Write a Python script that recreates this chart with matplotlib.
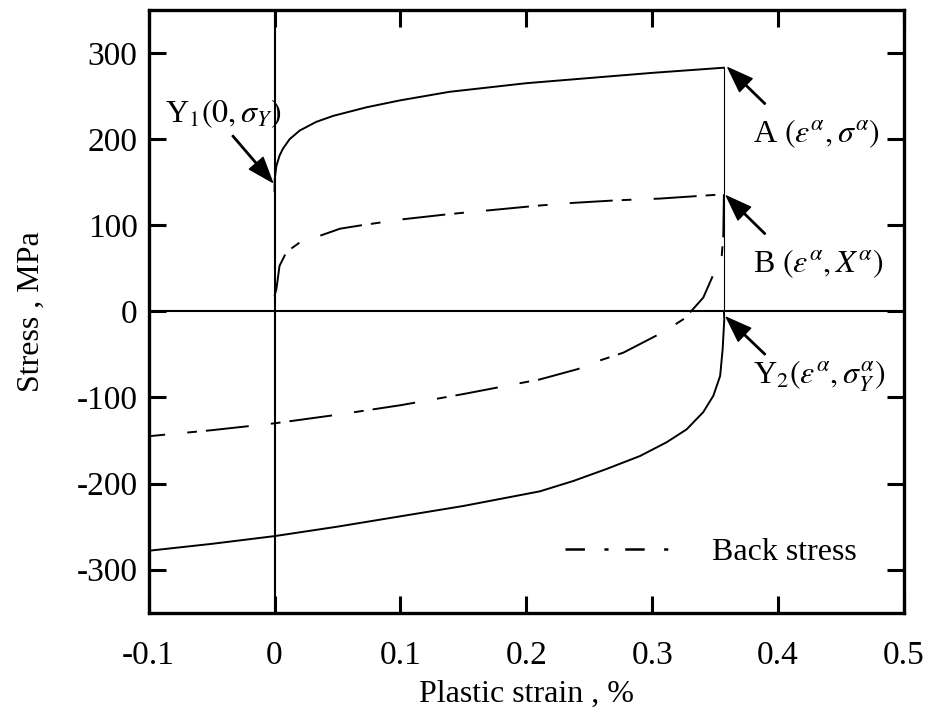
import matplotlib
matplotlib.use("Agg")
import matplotlib.pyplot as plt
from matplotlib.lines import Line2D

plt.rcParams['font.family'] = ['Liberation Serif', 'DejaVu Serif']
plt.rcParams['mathtext.fontset'] = 'stix'
plt.rcParams['lines.scale_dashes'] = False
plt.rcParams['axes.unicode_minus'] = False

# forward loading (stress) from Y1 to A
fwd_strain = [0, 0.0002, 0.0015, 0.004, 0.0067, 0.012, 0.02, 0.033, 0.0465, 0.073, 0.0995, 0.139,
              0.2, 0.25, 0.3, 0.357]
fwd_stress = [140, 154, 169, 181, 189, 200, 210, 220, 227, 237, 245, 255, 265, 271, 277, 283]

# reverse loading (stress) from Y2 back past zero strain
rev_strain = [0.357, 0.3573, 0.356, 0.354, 0.3486, 0.3406, 0.3274, 0.3115, 0.2903, 0.2638, 0.2373,
              0.2108, 0.15, 0.1, 0.05, 0, -0.05, -0.1]
rev_stress = [0, -9, -44, -75, -98, -117, -137, -152, -168, -183, -197, -209, -226, -238, -250,
              -261, -270, -278]

# back stress, forward branch
bs_fwd_strain = [0, 0.0015, 0.004, 0.0095, 0.02, 0.0345, 0.052, 0.069, 0.102, 0.139, 0.2108, 0.237,
                 0.272, 0.306, 0.357]
bs_fwd_stress = [18, 26, 53, 69, 80, 87, 96, 100, 107, 113, 123, 126, 129, 131, 136]

# back stress, reverse branch
bs_rev_strain = [0.357, 0.3565, 0.3553, 0.3406, 0.326, 0.3088, 0.277, 0.2585, 0.241, 0.2108, 0.2,
                 0.15, 0.1, 0.05, 0, -0.05, -0.1]
bs_rev_stress = [136, 88, 65, 16, -8, -24, -48, -57, -67, -79, -82, -96, -109, -120, -130, -138, -145]

eps_a = 0.357
sig_a = 283

fig, ax = plt.subplots(figsize=(9.29, 7.15), dpi=100)
fig.subplots_adjust(left=0.160, right=0.973, bottom=0.143, top=0.986)

# reference axes through the origin
ax.axvline(0, color='k', lw=1.5, zorder=1)
ax.axhline(0, color='k', lw=1.5, zorder=1)

ax.plot(fwd_strain, fwd_stress, color='k', lw=1.4)
ax.plot([eps_a, eps_a], [sig_a, 0], color='k', lw=0.8)
ax.plot(rev_strain, rev_stress, color='k', lw=1.4)

bs_style = (0, (31, 6.5, 7, 16))
ax.plot(bs_fwd_strain, bs_fwd_stress, color='k', lw=1.4, linestyle=bs_style)
ax.plot(bs_rev_strain, bs_rev_stress, color='k', lw=1.4, linestyle=bs_style)

ax.set_xlim(-0.1, 0.5)
ax.set_ylim(-350, 350)
ax.set_xticks([-0.1, 0, 0.1, 0.2, 0.3, 0.4, 0.5])
ax.set_xticklabels(['-0.1', '0', '0.1', '0.2', '0.3', '0.4', '0.5'])
ax.set_yticks([-300, -200, -100, 0, 100, 200, 300])
ax.tick_params(direction='in', length=12, width=2.2, top=True, right=True, labelsize=24)
ax.tick_params(axis='x', pad=20)
ax.tick_params(axis='y', pad=8)
for sp in ax.spines.values():
    sp.set_linewidth(2.4)

ax.set_xlabel('Plastic strain , %', fontsize=23, labelpad=6)
ax.set_ylabel('Stress , MPa', fontsize=23, labelpad=22)

# point labels with arrows
arrow = dict(facecolor='black', edgecolor='black', width=1.0, headwidth=13, headlength=18, shrink=0)
ax.annotate('', xy=(-0.0016, 150), xytext=(-0.0333, 204), arrowprops=arrow)
ax.text(-0.087, 229, r'Y$_1\left(0,\sigma_Y\right)$', fontsize=23, va='center', ha='left')

ax.annotate('', xy=(0.3602, sig_a), xytext=(0.3897, 241), arrowprops=arrow)
ax.text(0.38, 206, r'A $\left(\varepsilon^{\alpha},\sigma^{\alpha}\right)$', fontsize=23,
        va='center', ha='left')

ax.annotate('', xy=(0.359, 134), xytext=(0.3897, 90), arrowprops=arrow)
ax.text(0.38, 55, r'B $\left(\varepsilon^{\alpha},X^{\alpha}\right)$', fontsize=23,
        va='center', ha='left')

ax.annotate('', xy=(0.359, -7), xytext=(0.3897, -50), arrowprops=arrow)
ax.text(0.38, -75, r'Y$_2\left(\varepsilon^{\alpha},\sigma_Y^{\alpha}\right)$', fontsize=23,
        va='center', ha='left')

handle = Line2D([], [], color='k', lw=1.8, linestyle=(0, (14, 14, 3, 12)))
ax.legend([handle], ['Back stress'], loc='center right', bbox_to_anchor=(0.959, 0.10),
          frameon=False, fontsize=23, handlelength=3.3, handletextpad=1.3, borderpad=0)

fig.savefig('out.png', dpi=100)
